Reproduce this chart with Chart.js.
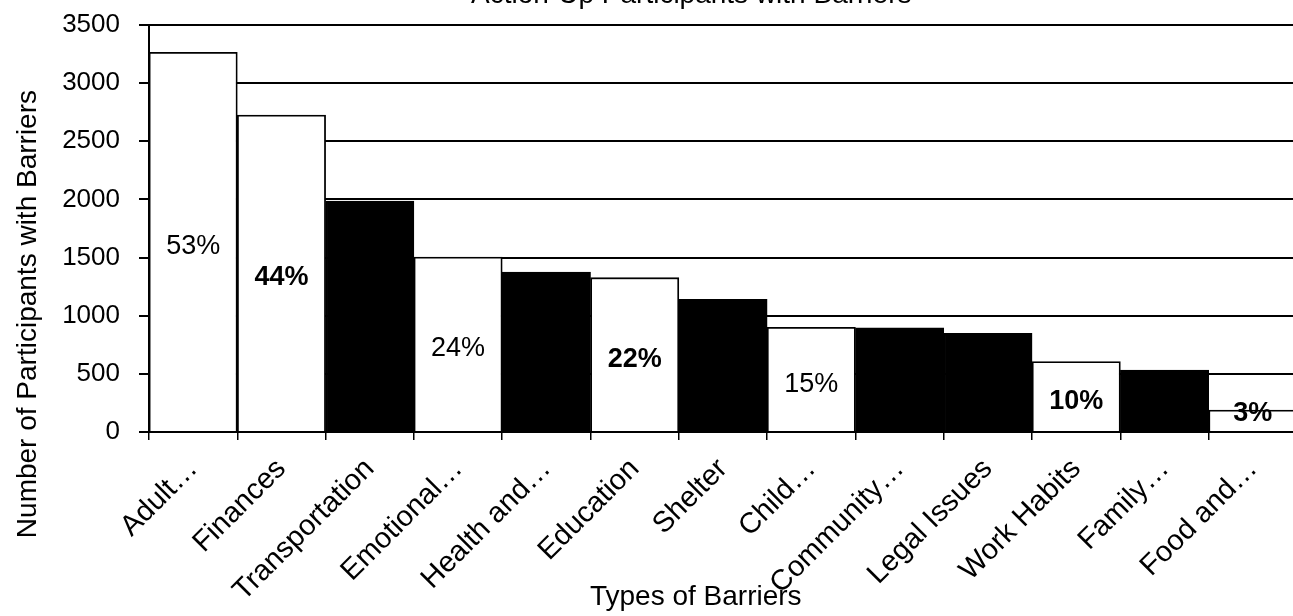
<!DOCTYPE html>
<html>
<head>
<meta charset="utf-8">
<script src="https://cdn.jsdelivr.net/npm/chart.js@4.4.1/dist/chart.umd.min.js"></script>
<style>
html, body { margin: 0; padding: 0; background: #fff; overflow: hidden; width: 1293px; height: 616px; }
#wrap { position: absolute; left: 0; top: -40px; }
</style>
</head>
<body>
<div id="wrap"><canvas id="c" width="1297" height="656"></canvas></div>
<script>
// ---- data ----
const categories = ['Adult\u2026', 'Finances', 'Transportation', 'Emotional\u2026', 'Health and\u2026', 'Education', 'Shelter', 'Child\u2026', 'Community\u2026', 'Legal Issues', 'Work Habits', 'Family\u2026', 'Food and\u2026'];
const participants = [3265, 2726, 1985, 1505, 1375, 1327, 1141, 900, 895, 849, 605, 533, 189];
const percentLabels = ['53%', '44%', '', '24%', '', '22%', '', '15%', '', '', '10%', '', '3%'];
const yTickValues = [0, 500, 1000, 1500, 2000, 2500, 3000, 3500];
const chartTitle = 'Action-Up Participants with Barriers';
const xTitle = 'Types of Barriers';
const yTitle = 'Number of Participants with Barriers';

// ---- styles ----
const barFill = ['#ffffff', '#ffffff', '#000000', '#ffffff', '#000000', '#ffffff', '#000000', '#ffffff', '#000000', '#000000', '#ffffff', '#000000', '#ffffff'];
const pctBold = [false, true, false, false, false, true, false, false, false, false, true, false, true];
const FONT = "'Liberation Sans', Arial, sans-serif";

const pctPlugin = {
  id: 'pctLabels',
  afterDatasetsDraw(chart) {
    const ctx = chart.ctx;
    const meta = chart.getDatasetMeta(0);
    ctx.save();
    ctx.fillStyle = '#000';
    ctx.textAlign = 'center';
    ctx.textBaseline = 'middle';
    meta.data.forEach((bar, i) => {
      const t = percentLabels[i];
      if (!t) return;
      const p = bar.getProps(['x', 'y', 'base'], true);
      ctx.font = (pctBold[i] ? 'bold ' : '') + '27px ' + FONT;
      const cy = Math.min((p.y + p.base) / 2 + 5, p.base - 17);
      ctx.fillText(t, p.x, cy);
    });
    ctx.restore();
  }
};

new Chart(document.getElementById('c'), {
  type: 'bar',
  data: {
    labels: categories,
    datasets: [{
      data: participants,
      backgroundColor: barFill,
      borderColor: '#000',
      borderWidth: 1.8,
      categoryPercentage: 1.0,
      barPercentage: 1.0
    }]
  },
  options: {
    responsive: false,
    animation: false,
    layout: { padding: 0 },
    plugins: {
      legend: { display: false },
      tooltip: { enabled: false },
      title: {
        display: true,
        text: ' '.repeat(11) + chartTitle,
        color: '#000',
        font: { family: FONT, size: 28, weight: 'normal' },
        padding: { top: 18, bottom: 13.4 }
      }
    },
    scales: {
      x: {
        type: 'category',
        afterFit(scale) { scale.height = 184; },
        grid: { display: true, drawOnChartArea: false, drawTicks: true, tickLength: 8, color: '#000', lineWidth: 1.5, offset: true },
        border: { display: true, color: '#000', width: 2 },
        ticks: {
          autoSkip: false, minRotation: 45, maxRotation: 45, padding: 12,
          color: '#000', font: { family: FONT, size: 29 }
        },
        title: {
          display: true, text: xTitle + ' '.repeat(7), color: '#000',
          font: { family: FONT, size: 28 }, padding: { top: 0, bottom: 2 }
        }
      },
      y: {
        min: 0, max: 3500,
        afterFit(scale) { scale.width = 149; },
        afterBuildTicks(scale) { scale.ticks = yTickValues.map(v => ({ value: v })); },
        grid: { color: '#000', lineWidth: 2, drawTicks: true, tickLength: 10 },
        border: { display: true, color: '#000', width: 2 },
        ticks: {
          padding: 19, color: '#000', font: { family: FONT, size: 26 },
          callback: (v) => String(v)
        },
        title: {
          display: true, text: yTitle + ' '.repeat(22), color: '#000',
          font: { family: FONT, size: 28 }, padding: { top: 11, bottom: 0 }
        }
      }
    }
  },
  plugins: [pctPlugin]
});
</script>
</body>
</html>
